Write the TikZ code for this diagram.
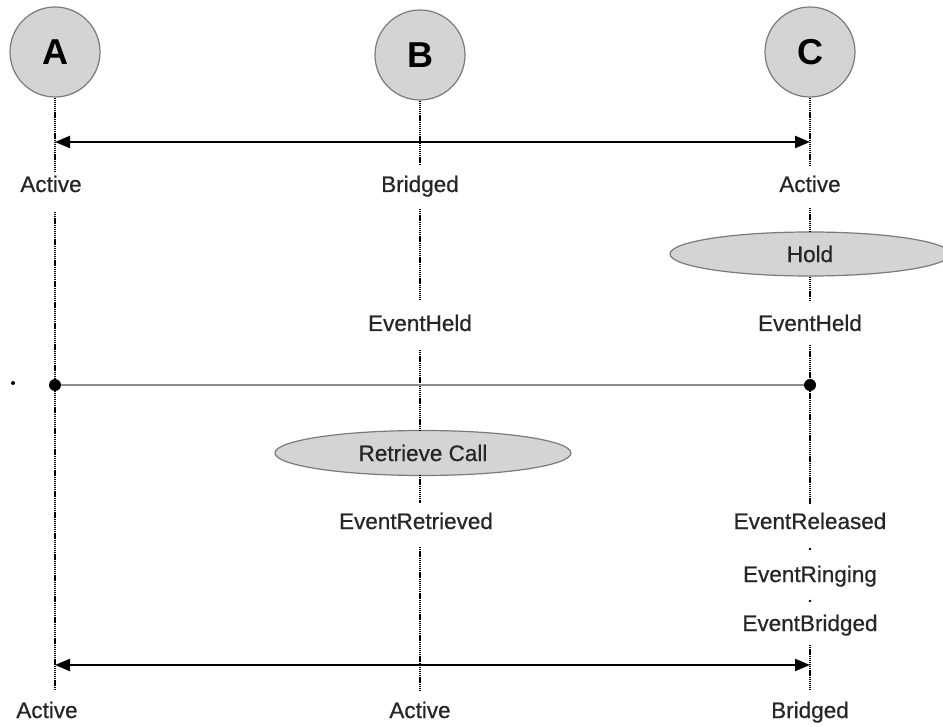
\documentclass[tikz,border=0pt]{standalone}
\usepackage{fontspec}
\setmainfont{Liberation Sans}
\newfontfamily\labelfont[FakeBold=0.6]{Liberation Sans}
\usetikzlibrary{arrows.meta,shapes.geometric}
\definecolor{partyfill}{HTML}{D4D4D4}
\definecolor{partyline}{HTML}{7A7A7A}
\definecolor{linkgray}{HTML}{8C8C8C}
\begin{document}
\begin{tikzpicture}[x=1pt,y=-1pt,
  party/.style={circle,draw=partyline,line width=1.2pt,fill=partyfill,
    minimum size=90pt,inner sep=0pt,font=\fontsize{36}{36}\selectfont\bfseries},
  action/.style={ellipse,draw=partyline,line width=1.2pt,fill=partyfill,
    inner sep=0pt,font=\labelfont\fontsize{22.5}{22.5}\selectfont,text=black!85},
  state/.style={inner xsep=2pt,inner ysep=9pt,text height=16pt,text depth=4pt,
    font=\labelfont\fontsize{22.5}{22.5}\selectfont,text=black!85},
  life/.style={black,line width=2.4pt,dash pattern=on 1.3pt off 0.8pt},
  call/.style={black,line width=2.2pt,{Triangle[length=15pt,width=12pt]}-{Triangle[length=15pt,width=12pt]}},
  link/.style={linkgray,line width=2pt},
  joint/.style={circle,fill=black,inner sep=0pt,minimum size=12pt}]
\useasboundingbox (0,0) rectangle (943,727);

% parties
\node[party] (A) at (55,52) {A};
\node[party] (B) at (420,55) {B};
\node[party] (C) at (810,52) {C};

% state and event labels
\node[state] (aS1) at (51,186) {Active};
\node[state] (bS1) at (420,186) {Bridged};
\node[state] (cS1) at (810,186) {Active};
\node[action,minimum width=280pt,minimum height=44pt] (hold) at (810,254) {Hold};
\node[state] (bHeld) at (420,325) {EventHeld};
\node[state] (cHeld) at (810,325) {EventHeld};
\node[action,minimum width=296pt,minimum height=45pt] (retr) at (423,453) {Retrieve Call};
\node[state] (bRetr) at (416,523) {EventRetrieved};
\node[state] (cRel) at (810,523) {EventReleased};
\node[state] (cRing) at (810,576) {EventRinging};
\node[state] (cBr) at (810,625) {EventBridged};
\node[state] (aS2) at (47,712) {Active};
\node[state] (bS2) at (420,712) {Active};
\node[state] (cS2) at (810,712) {Bridged};

% lifeline ends
\coordinate (aEnd) at (55,690);
\coordinate (bEnd) at (420,690);
\coordinate (cEnd) at (810,690);
\coordinate (aTop) at (55,212);
\coordinate (bTop) at (420,547);
\coordinate (cTop) at (810,645);

% lifelines of A
\draw[life] (A.south) -- (55,172);
\draw[life] (aTop) -- (aEnd);
% lifelines of B
\draw[life] (B.south) -- (420,165);
\draw[life] (420,209) -- (420,300);
\draw[life] (420,350) -- (420,431);
\draw[life] (420,475) -- (420,503);
\draw[life] (bTop) -- (bEnd);
% lifelines of C
\draw[life] (C.south) -- (810,165);
\draw[life] (810,208) -- (hold.north);
\draw[life] (hold.south) -- (810,300);
\draw[life] (810,345) -- (810,504);
\fill (810,549) circle (1.4pt);
\fill (810,601) circle (1.4pt);
\draw[life] (cTop) -- (cEnd);

% calls
\coordinate (aCall1) at (55,142);
\coordinate (cCall1) at (810,142);
\draw[call] (aCall1) -- (cCall1);
\coordinate (aCall2) at (55,665);
\coordinate (cCall2) at (810,665);
\draw[call] (aCall2) -- (cCall2);

% held connection
\node[joint] (aJ) at (55,385) {};
\node[joint] (cJ) at (810,385) {};
\draw[link] (aJ) -- (cJ);
\fill (13,383) circle (2pt);
\end{tikzpicture}
\end{document}
